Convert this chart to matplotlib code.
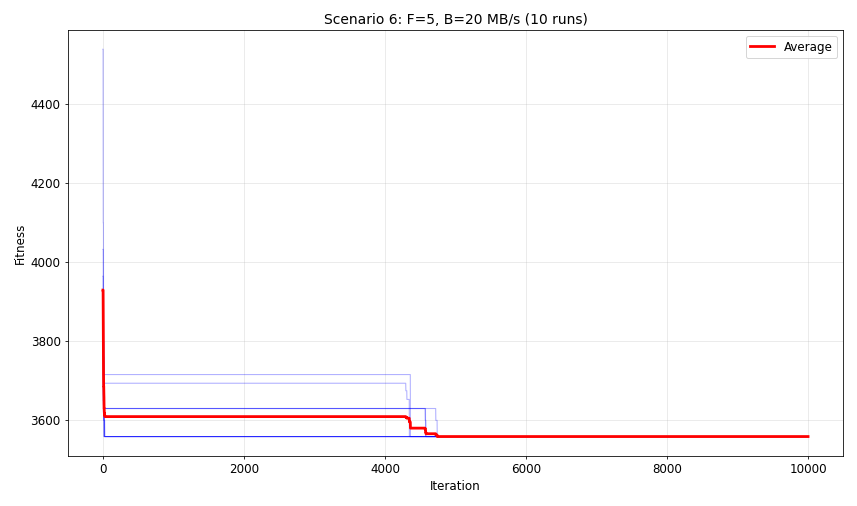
import numpy as np
import matplotlib
matplotlib.use("Agg")
import matplotlib.pyplot as plt

n_iter = 10001

# change points per run: (iteration, fitness) — value holds until next change
run_iters = [
    [0, 3, 8, 15, 25],
    [0, 5, 12, 4575],
    [0, 4, 10, 4360],
    [0, 6, 14, 4295, 4310, 4345],
    [0, 7, 18, 4570, 4580],
    [0, 9, 4720, 4740],
    [0, 6, 20],
    [0, 5, 16],
    [0, 8, 22],
    [0, 4, 12],
]
run_fitness = [
    [4540, 4100, 3800, 3600, 3559],
    [4033, 3750, 3630, 3559],
    [3965, 3800, 3716, 3559],
    [3900, 3760, 3694, 3675, 3653, 3559],
    [3880, 3700, 3630, 3600, 3559],
    [3850, 3630, 3600, 3559],
    [3800, 3620, 3559],
    [3790, 3640, 3559],
    [3780, 3600, 3559],
    [3762, 3650, 3559],
]

iterations = np.arange(n_iter)
runs = []
for its, vals in zip(run_iters, run_fitness):
    idx = np.searchsorted(its, iterations, side="right") - 1
    runs.append(np.asarray(vals, dtype=float)[idx])
runs = np.array(runs)
avg = runs.mean(axis=0)

dpi = 71.42
plt.rcParams["font.size"] = 12
fig = plt.figure(figsize=(857 / dpi, 506 / dpi), dpi=dpi)
ax = fig.add_axes([0.079, 0.099, 0.905, 0.842])
for r in runs:
    ax.plot(iterations, r, color="blue", alpha=0.3, linewidth=1.1)
ax.plot(iterations, avg, color="red", linewidth=2.8, label="Average")

ax.set_xlabel("Iteration")
ax.set_ylabel("Fitness")
ax.set_title("Scenario 6: F=5, B=20 MB/s (10 runs)", fontsize=14)
ax.legend(loc="upper right")
ax.grid(True, alpha=0.3)

fig.savefig("out.png", dpi=dpi)
